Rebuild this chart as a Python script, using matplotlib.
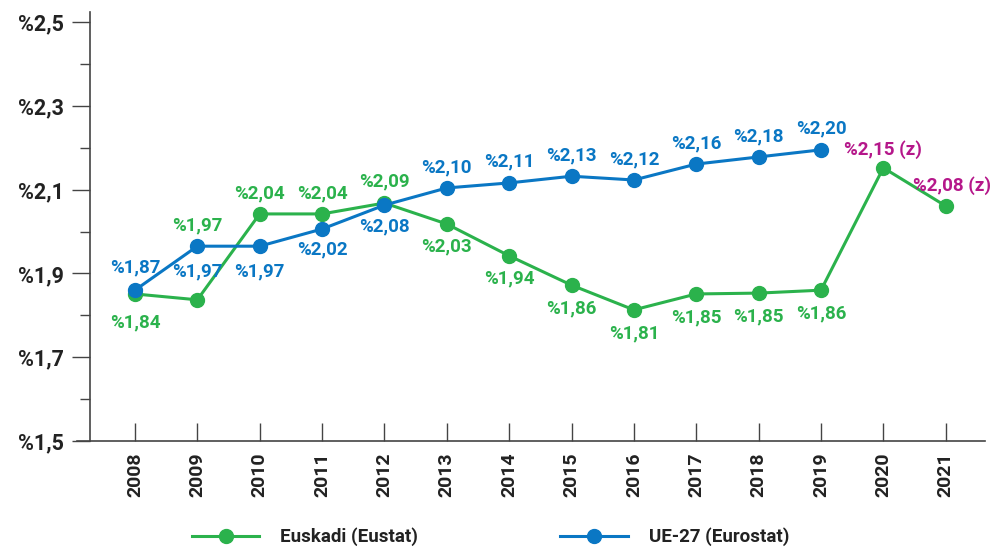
import matplotlib.pyplot as plt
from matplotlib.ticker import MultipleLocator

plt.rcParams['font.family'] = ['Roboto', 'DejaVu Sans']

years = [2008, 2009, 2010, 2011, 2012, 2013, 2014, 2015, 2016, 2017, 2018, 2019, 2020, 2021]
euskadi = [1.851, 1.837, 2.042, 2.042, 2.068, 2.018, 1.942, 1.872, 1.813, 1.851, 1.853, 1.860, 2.152, 2.061]
euskadi_lbl = ['%1,84', '%1,97', '%2,04', '%2,04', '%2,09', '%2,03', '%1,94', '%1,86', '%1,81',
               '%1,85', '%1,85', '%1,86', '%2,15 (z)', '%2,08 (z)']
ue_years = years[:12]
ue27 = [1.860, 1.965, 1.965, 2.006, 2.063, 2.104, 2.116, 2.132, 2.123, 2.161, 2.178, 2.195]
ue_lbl = ['%1,87', '%1,97', '%1,97', '%2,02', '%2,08', '%2,10', '%2,11', '%2,13', '%2,12',
          '%2,16', '%2,18', '%2,20']
yticks = [1.5, 1.7, 1.9, 2.1, 2.3, 2.5]
ytick_lbl = ['%1,5', '%1,7', '%1,9', '%2,1', '%2,3', '%2,5']

green = '#2bb24c'
blue = '#0a77c4'
magenta = '#b5178a'
dark = '#222222'

# label offsets in pixels (dx, dy)
eus_off = [(0, -28), (0, 74), (0, 20), (0, 20), (0, 22), (0, -22), (0, -23), (0, -23), (0, -24),
           (0, -23), (0, -23), (0, -23), (0, 18), (6, 20)]
ue_off = [(0, 23), (0, -25), (0, -25), (0, -20), (0, -21), (0, 21), (0, 21), (0, 21), (0, 21),
          (0, 21), (0, 21), (0, 21)]

fig = plt.figure(figsize=(10.05, 5.55), dpi=100)
ax = fig.add_axes([0.0896, 0.2054, 0.8905, 0.7730])

ax.plot(years, euskadi, color=green, lw=2.2, marker='o', ms=10, label='Euskadi (Eustat)', zorder=3)
ax.plot(ue_years, ue27, color=blue, lw=2.2, marker='o', ms=10, label='UE-27 (Eurostat)', zorder=4)

for x, y, t, o in zip(years, euskadi, euskadi_lbl, eus_off):
    c = magenta if '(z)' in t else green
    ax.annotate(t, (x, y), xytext=o, textcoords='offset pixels', ha='center', va='center',
                color=c, fontsize=13.5, fontweight='bold', zorder=5)
for x, y, t, o in zip(ue_years, ue27, ue_lbl, ue_off):
    ax.annotate(t, (x, y), xytext=o, textcoords='offset pixels', ha='center', va='center',
                color=blue, fontsize=13.5, fontweight='bold', zorder=5)

ax.set_xlim(2007.28, 2021.63)
ax.set_ylim(1.5, 2.524)
ax.set_yticks(yticks)
ax.set_yticklabels(ytick_lbl, fontsize=15.5, fontweight='bold', color=dark)
ax.yaxis.set_minor_locator(MultipleLocator(0.1))
ax.tick_params(axis='y', which='major', length=13, width=1, color='#444444', pad=6)
ax.tick_params(axis='y', which='minor', length=7, width=1, color='#444444')
ax.set_xticks(years)
ax.set_xticklabels([str(y) for y in years], rotation=90, fontsize=14, fontweight='bold', color=dark)
ax.tick_params(axis='x', direction='in', length=13, width=1, color='#444444', pad=8)

for s in ['top', 'right']:
    ax.spines[s].set_visible(False)
for s in ['left', 'bottom']:
    ax.spines[s].set_color('#444444')
    ax.spines[s].set_linewidth(1.2)
ax.spines['bottom'].set_bounds(2007.28 - 13 / 62.4, 2021.63)
ax.spines['bottom'].set_clip_on(False)

leg = fig.legend(loc='lower center', bbox_to_anchor=(0.488, -0.015), ncol=2, frameon=False,
                 handlelength=3.6, columnspacing=7.6, handletextpad=1.1,
                 prop={'size': 13.5, 'weight': 'bold'})
for t in leg.get_texts():
    t.set_color(dark)

fig.savefig('out.png', dpi=100)
